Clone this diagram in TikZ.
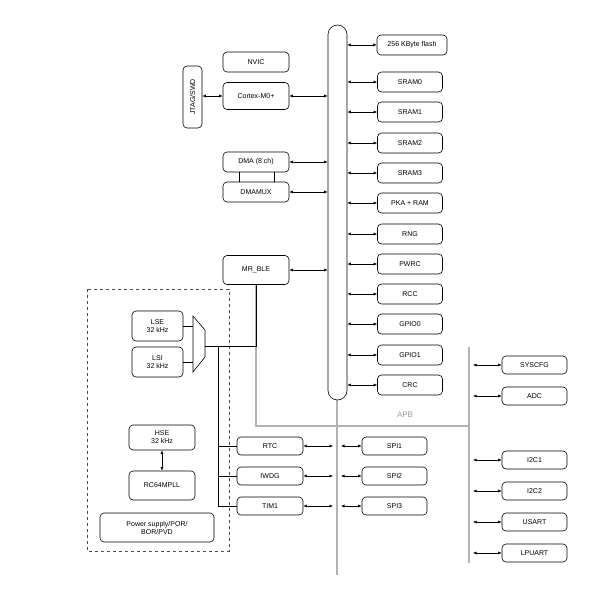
\documentclass[tikz,border=0pt]{standalone}
\usepackage{fontspec}
\setmainfont{Liberation Sans}
\usetikzlibrary{arrows.meta}
\begin{document}
\begin{tikzpicture}[x=1pt,y=-1pt,
  box/.style={draw, rounded corners=4pt, minimum width=66pt, minimum height=20pt, inner sep=0pt, align=center, font=\fontsize{7}{8}\selectfont, line width=0.6pt},
  rbox/.style={box, minimum width=65pt},
  arr/.style={{Latex[length=3.5pt,width=3pt]}-{Latex[length=3.5pt,width=3pt]}, line width=0.6pt},
  apb/.style={line width=2.6pt, black!30},
  thin/.style={line width=0.6pt}]
\useasboundingbox (0,0) rectangle (600,600);
% gray APB lines
\draw[apb] (337,400) -- (337,575);
\draw[apb] (469,347) -- (469,563);
\draw[apb] (256,285) -- (256,426) -- (469,426);
\node[text=black!40, font=\fontsize{8}{9}\selectfont] (apbl) at (405,415) {APB};
% bus
\node[draw, fill=white, line width=0.6pt, rounded corners=9.5pt, minimum width=19pt, minimum height=375pt, inner sep=0pt] (bus) at (337.5,212.5) {};
% right memory/peripherals
\node[rbox, minimum width=70pt] (flash) at (412,45) {256 KByte flash};
\foreach \n/\t/\y in {s0/SRAM0/82, s1/SRAM1/112, s2/SRAM2/143, s3/SRAM3/173, pka/PKA + RAM/203, rng/RNG/234, pwrc/PWRC/264, rcc/RCC/294, g0/GPIO0/324, g1/GPIO1/355, crc/CRC/385}{
  \node[rbox] (\n) at (410,\y) {\t};
  \draw[arr] (bus.east |- \n.west) -- (\n.west);
}
\draw[arr] (bus.east |- flash.west) -- (flash.west);
% left
\node[box] (nvic) at (256,62) {NVIC};
\node[box, minimum height=27pt] (cm0) at (256,96) {Cortex-M0+};
\node[draw, rounded corners=4pt, minimum width=19pt, minimum height=62pt, inner sep=0pt, line width=0.6pt] (jtag) at (192.5,97) {};
\node[rotate=90, font=\fontsize{7}{8}\selectfont] (jtagt) at (jtag) {JTAG/SWD};
\draw[arr] (jtag.east |- cm0.west) -- (cm0.west);
\draw[arr] (cm0.east) -- (cm0.east -| bus.west);
\node[box] (dma) at (256,162) {DMA (8 ch)};
\node[box] (dmamux) at (256,192) {DMAMUX};
\draw[thin] (dma.south -| 239,0) -- (dmamux.north -| 239,0);
\draw[thin] (dma.south -| 274,0) -- (dmamux.north -| 274,0);
\draw[arr] (dma.east) -- (dma.east -| bus.west);
\draw[arr] (dmamux.east) -- (dmamux.east -| bus.west);
\node[box, minimum height=29pt] (mrble) at (256,270) {MR\_BLE};
\draw[arr] (mrble.east) -- (mrble.east -| bus.west);
% dashed region
\draw[dashed, thin, black!70] (87,289) rectangle (229,551);
\node[box, minimum width=51pt, minimum height=30pt] (lse) at (157.5,326) {LSE\\32 kHz};
\node[box, minimum width=51pt, minimum height=30pt] (lsi) at (157.5,362) {LSI\\32 kHz};
\coordinate (mx1) at (193,316); \coordinate (mx2) at (205,330);
\coordinate (mx3) at (205,357); \coordinate (mx4) at (193,372);
\draw[thin] (mx1) -- (mx2) -- (mx3) -- (mx4) -- cycle;
\draw[thin] (lse.east) -- (lse.east -| mx1);
\draw[thin] (lsi.east) -- (lsi.east -| mx1);
\coordinate (mxo) at (205,346);
\draw[thin] (mxo) -- (mxo -| mrble.south) -- (mrble.south);
\node[box, minimum height=25pt] (hse) at (162,437.5) {HSE\\32 kHz};
\node[box, minimum height=29pt] (pll) at (162,485.5) {RC64MPLL};
\draw[arr] (hse.south) -- (pll.north);
\node[box, minimum width=114pt, minimum height=29pt] (pwr) at (157,527.5) {Power supply/POR/\\BOR/PVD};
\node[box, minimum height=18pt] (rtc) at (270,446) {RTC};
\node[box, minimum height=18pt] (iwdg) at (270,476) {IWDG};
\node[box, minimum height=18pt] (tim1) at (270,506) {TIM1};
\coordinate (vt) at (218,346);
\draw[thin] (vt) -- (vt |- tim1.west) -- (tim1.west);
\draw[thin] (vt |- rtc.west) -- (rtc.west);
\draw[thin] (vt |- iwdg.west) -- (iwdg.west);
\foreach \a/\b/\t in {rtc/spi1/SPI1, iwdg/spi2/SPI2/I2S2, tim1/spi3/SPI3/I2S3}{
  \node[box, minimum width=65pt, minimum height=18pt] (\b) at (394.5,0 |- \a.center) {\t};
  \draw[arr] (\a.east) -- ([xshift=-4pt]\a.east -| 337,0);
  \draw[arr] ([xshift=4pt]\b.west -| 337,0) -- (\b.west);
}
\foreach \n/\t/\y in {syscfg/SYSCFG/365, adc/ADC/396, i2c1/I2C1/460, i2c2/I2C2/491, usart/USART/522, lpuart/LPUART/553}{
  \node[box, minimum width=65pt, minimum height=18pt] (\n) at (534.5,\y) {\t};
  \draw[arr] ([xshift=4pt]\n.west -| 469,0) -- (\n.west);
}
\end{tikzpicture}
\end{document}
